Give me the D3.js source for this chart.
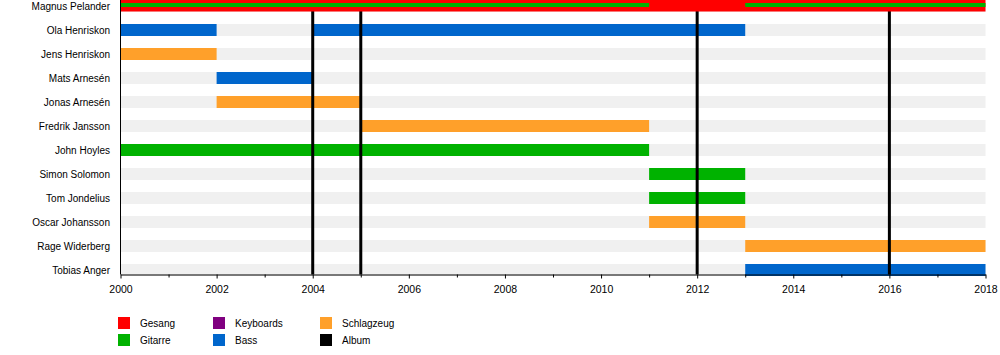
<!DOCTYPE html>
<html><head><meta charset="utf-8">
<script src="https://cdn.jsdelivr.net/npm/d3@7"></script>
<style>
html,body{margin:0;padding:0;background:#fff;}
svg{display:block;font-family:"Liberation Sans",Arial,Helvetica,sans-serif;}
</style></head>
<body>
<svg id="chart" width="1000" height="355"></svg>
<script>
const members = ["Magnus Pelander","Ola Henriskon","Jens Henriskon","Mats Arnesén","Jonas Arnesén","Fredrik Jansson","John Hoyles","Simon Solomon","Tom Jondelius","Oscar Johansson","Rage Widerberg","Tobias Anger"];
const roles = ["Gesang","Gitarre","Keyboards","Bass","Schlagzeug","Album"];
const roleColors = ["#ff0000","#00b200","#800080","#0066cc","#ffa02a","#000000"];
// [member, role, start, end]
const periods = [
  ["Magnus Pelander","Gesang",2000,2018],
  ["Ola Henriskon","Bass",2000,2002],
  ["Ola Henriskon","Bass",2004,2013],
  ["Jens Henriskon","Schlagzeug",2000,2002],
  ["Mats Arnesén","Bass",2002,2004],
  ["Jonas Arnesén","Schlagzeug",2002,2005],
  ["Fredrik Jansson","Schlagzeug",2005,2011],
  ["John Hoyles","Gitarre",2000,2011],
  ["Simon Solomon","Gitarre",2011,2013],
  ["Tom Jondelius","Gitarre",2011,2013],
  ["Oscar Johansson","Schlagzeug",2011,2013],
  ["Rage Widerberg","Schlagzeug",2013,2018],
  ["Tobias Anger","Bass",2013,2018]
];
// secondary role stripes drawn inside a bar
const stripes = [
  ["Magnus Pelander","Gitarre",2000,2011],
  ["Magnus Pelander","Gitarre",2013,2018]
];
const albums = [2004,2005,2012,2016];
const majorTicks = [2000,2002,2004,2006,2008,2010,2012,2014,2016,2018];
const minorTicks = [2001,2003,2005,2007,2009,2011,2013,2015,2017];
const yearStart = 2000, yearEnd = 2018;

const svg = d3.select("#chart");
const x = d3.scaleLinear().domain([yearStart, yearEnd]).range([120.5, 985.5]);
const y = d3.scalePoint().domain(members).range([6, 270]);
const color = d3.scaleOrdinal().domain(roles).range(roleColors);
const barH = 12, axisY = 274.5;

// background bars
svg.append("g").selectAll("rect").data(members).join("rect")
  .attr("x", x(yearStart)).attr("width", x(yearEnd) - x(yearStart))
  .attr("y", d => y(d) - barH/2).attr("height", barH)
  .attr("fill", "#f0f0f0");

// member bars (except top)
svg.append("g").selectAll("rect").data(periods.filter(p => p[0] !== members[0])).join("rect")
  .attr("x", d => x(d[2])).attr("width", d => x(d[3]) - x(d[2]))
  .attr("y", d => y(d[0]) - barH/2).attr("height", barH)
  .attr("fill", d => color(d[1]));

// album lines
svg.append("g").selectAll("line").data(albums).join("line")
  .attr("x1", d => x(d)).attr("x2", d => x(d))
  .attr("y1", 0).attr("y2", axisY)
  .attr("stroke", color("Album")).attr("stroke-width", 3);

// top member bar
svg.append("g").selectAll("rect").data(periods.filter(p => p[0] === members[0])).join("rect")
  .attr("x", d => x(d[2])).attr("width", d => x(d[3]) - x(d[2]))
  .attr("y", d => y(d[0]) - barH/2).attr("height", barH - 0.5)
  .attr("fill", d => color(d[1]));
svg.append("g").selectAll("rect").data(stripes).join("rect")
  .attr("x", d => x(d[2])).attr("width", d => x(d[3]) - x(d[2]))
  .attr("y", d => y(d[0]) - 3).attr("height", 4)
  .attr("fill", d => color(d[1]));

// member names
svg.append("g").selectAll("text").data(members).join("text")
  .attr("x", 110).attr("y", d => y(d)).attr("dy", "0.35em")
  .attr("text-anchor", "end").attr("font-size", "10px").attr("fill", "#000")
  .text(d => d);

// axes
const gMinor = svg.append("g").attr("transform", `translate(0,${axisY})`)
  .call(d3.axisBottom(x).tickValues(minorTicks).tickSize(3).tickFormat(""));
gMinor.select(".domain").remove();
const gMajor = svg.append("g").attr("transform", `translate(0,${axisY})`)
  .call(d3.axisBottom(x).tickValues(majorTicks).tickSize(4).tickSizeOuter(0).tickFormat(d3.format("d")));
gMajor.selectAll("text").attr("font-size", "10.5px").attr("font-family", "Liberation Sans, Arial, sans-serif").attr("fill", "#000").attr("dy", "0.71em").attr("y", 11);
gMajor.select(".domain").attr("stroke", "#000");
svg.selectAll(".tick line").attr("stroke", "#000");
// vertical axis line
svg.append("line").attr("x1", x(yearStart)).attr("x2", x(yearStart))
  .attr("y1", 0).attr("y2", axisY).attr("stroke", "#000").attr("stroke-width", 1);

// legend
const legX = [118, 213, 320], legY = [317, 334];
const leg = svg.append("g").selectAll("g").data(roles).join("g")
  .attr("transform", (d, i) => `translate(${legX[Math.floor(i/2)]},${legY[i%2]})`);
leg.append("rect").attr("width", 12).attr("height", 12).attr("fill", d => color(d));
leg.append("text").attr("x", 22).attr("y", 6).attr("dy", "0.35em")
  .attr("font-size", "10px").attr("fill", "#000").text(d => d);
</script>
</body></html>
